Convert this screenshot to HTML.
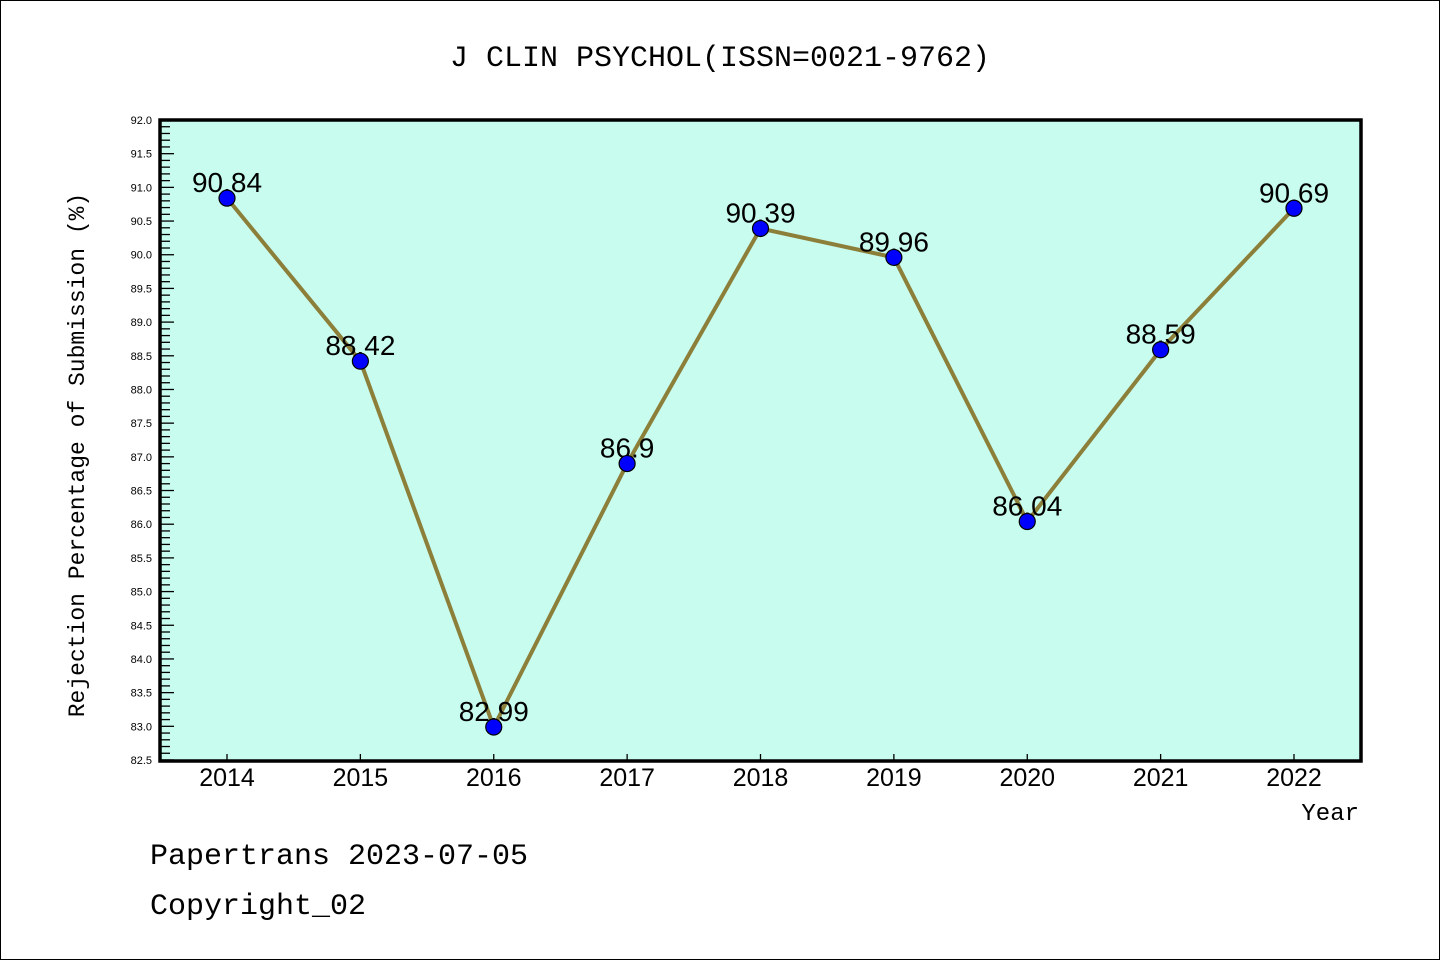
<!DOCTYPE html>
<html><head><meta charset="utf-8"><style>
body{margin:0;background:#fff;}
svg{display:block;font-family:"Liberation Sans","DejaVu Sans",sans-serif;}
</style></head><body>
<svg id="chart" width="1440" height="960">
<rect x="0.5" y="0.5" width="1439" height="959" fill="#fff" stroke="#000"/>
<text x="720" y="66" text-anchor="middle" font-size="30" font-family="Liberation Mono, monospace">J CLIN PSYCHOL(ISSN=0021-9762)</text>
<rect x="160" y="120" width="1201" height="641" fill="#c8fcee"/>
<g id="axes"></g>
<g id="series"></g>
<text transform="translate(84,455) rotate(-90)" text-anchor="middle" font-size="23" font-family="Liberation Mono, monospace">Rejection Percentage of Submission (%)</text>
<text x="1359" y="820" text-anchor="end" font-size="24" font-family="Liberation Mono, monospace">Year</text>
<text x="150" y="864" font-size="30" font-family="Liberation Mono, monospace">Papertrans 2023-07-05</text>
<text x="150" y="914" font-size="30" font-family="Liberation Mono, monospace">Copyright_02</text>
<rect x="160" y="120" width="1201" height="641" fill="none" stroke="#000" stroke-width="3.5"/>
</svg>
<script>
const years=[2014,2015,2016,2017,2018,2019,2020,2021,2022];
const values=[90.84,88.42,82.99,86.9,90.39,89.96,86.04,88.59,90.69];
const labels=["90.84","88.42","82.99","86.9","90.39","89.96","86.04","88.59","90.69"];
const yMin=82.5,yMax=92.0;
const NS="http://www.w3.org/2000/svg";
function xS(i){return 227+i*(1294-227)/(years.length-1);}
function yS(v){return 120+(yMax-v)/(yMax-yMin)*640;}
function mk(t,a,p){const e=document.createElementNS(NS,t);for(const k in a)e.setAttribute(k,a[k]);p.appendChild(e);return e;}
const ax=document.getElementById('axes');
for(let k=0;k<=95;k++){
 const v=yMin+k*0.1, y=yS(v), major=k%5===0;
 const t=mk('line',{x1:160,x2:major?174:170,y1:y,y2:y,stroke:'#000','stroke-width':1.3},ax);
 
 
 if(major){const l=mk('text',{x:152,y:y+4,'text-anchor':'end','font-size':11},ax);l.textContent=v.toFixed(1);
 
 }
}
years.forEach((yr,i)=>{
 const x=xS(i);
 const t=mk('line',{x1:x,x2:x,y1:761,y2:754,stroke:'#000','stroke-width':1.3},ax);
 
 
 const l=mk('text',{x:x,y:786,'text-anchor':'middle','font-size':25},ax);l.textContent=yr;
 
 
});
const s=document.getElementById('series');
const pl=mk('polyline',{points:values.map((v,i)=>xS(i)+','+yS(v)).join(' '),fill:'none',stroke:'#8c7f3a','stroke-width':4},s);


values.forEach((v,i)=>{
 const l=mk('text',{x:xS(i),y:yS(v)-6,'text-anchor':'middle','font-size':28},s);l.textContent=labels[i];
 
 
});
values.forEach((v,i)=>{
 const c=mk('circle',{cx:xS(i),cy:yS(v),r:8,fill:'#0000ff',stroke:'#000','stroke-width':1.2},s);
 
 
});
</script>
</body></html>
